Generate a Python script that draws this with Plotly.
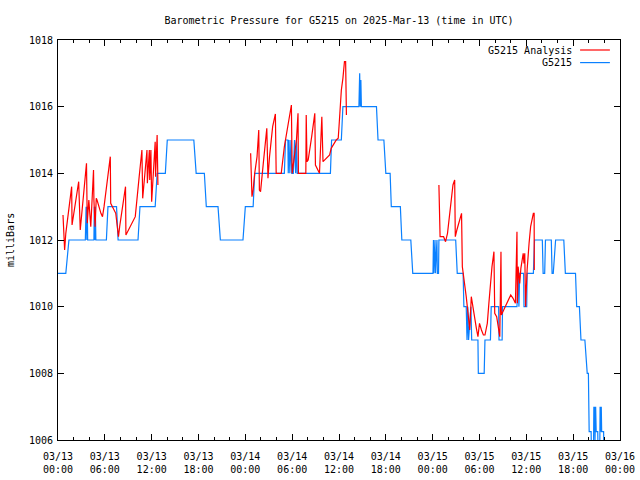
import pandas as pd
import plotly.graph_objects as go

BASE = pd.Timestamp("2025-03-13 00:00")

# ---- G5215 observations (hours since 03/13 00:00 UTC, millibars) ----
obs_hours = [0, 1.0, 1.4, 3.5, 3.6, 3.7, 3.75, 3.8, 4.6, 4.65, 4.72, 4.78, 4.85,
             6.2, 6.4, 7.5, 7.7, 10.25, 10.5, 12.45, 12.7, 13.75, 14.0, 17.4, 17.7,
             18.75, 19.0, 20.5, 20.8, 23.7, 24.0, 25.0, 25.2, 29.0, 29.15, 29.45,
             29.5, 29.6, 29.7, 29.85, 29.95, 30.15, 30.3, 30.45, 30.55, 30.65,
             34.9, 35.05, 36.3, 36.5, 38.55, 38.65, 38.72, 38.8, 38.87, 40.8, 41.0,
             41.75, 42.0, 42.55, 42.7, 43.86, 44.05, 45.2, 45.45, 48.04, 48.1, 48.15,
             48.3, 48.35, 48.55, 48.6, 48.75, 48.8, 50.95, 51.15, 51.9, 52.0, 52.3,
             52.4, 52.5, 52.6, 52.9, 53.0, 53.8, 53.85, 54.6, 54.7, 55.4, 55.5,
             56.45, 56.5, 56.9, 56.95, 58.8, 58.95, 59.05, 59.15, 59.65, 59.7,
             60.05, 60.1, 60.9, 61.05, 62.05, 62.15, 62.35, 62.45, 63.2, 63.3,
             63.45, 63.75, 64.8, 65.0, 66.3, 66.45, 66.8, 67.0, 67.5, 67.8, 67.95,
             68.05, 68.3, 68.35, 68.6, 68.65, 68.7, 68.75, 68.8, 68.88, 68.95,
             69.15, 69.2, 69.4, 69.45, 69.5, 69.6, 69.65, 69.9, 69.95]
obs_mb = [1011, 1011, 1012, 1012, 1013, 1012, 1013, 1012, 1012, 1013, 1012, 1013, 1012,
          1012, 1013, 1013, 1012, 1012, 1013, 1013, 1014, 1014, 1015, 1015, 1014,
          1014, 1013, 1013, 1012, 1012, 1013, 1013, 1014, 1014, 1015, 1015,
          1014, 1015, 1014, 1015, 1014, 1014, 1015, 1014, 1015, 1014,
          1014, 1015, 1015, 1016, 1016, 1017, 1016, 1016.8, 1016, 1016, 1015,
          1015, 1014, 1014, 1013, 1013, 1012, 1012, 1011, 1011, 1012, 1011,
          1012, 1011, 1012, 1011, 1011, 1012, 1012, 1011, 1011, 1010, 1010,
          1009, 1010, 1009, 1010, 1009, 1009, 1008, 1008, 1009, 1009, 1010,
          1010, 1009, 1009, 1010, 1010, 1011, 1010, 1011, 1011, 1010,
          1010, 1011, 1011, 1012, 1012, 1011, 1011, 1012, 1012, 1011,
          1011, 1012, 1012, 1011, 1011, 1010, 1010, 1009, 1009, 1008, 1008,
          1006.25, 1006.25, 1005.5, 1005.5, 1007, 1006.25, 1007, 1006, 1007, 1006.25,
          1006.25, 1005.5, 1005.5, 1007, 1006.25, 1007, 1006.25, 1006.25, 1005.5]

# ---- G5215 Analysis (three separate runs) ----
ana1_hours = [0.64, 0.85, 1.0, 1.7, 1.75, 1.8, 2.65, 2.85, 3.65, 3.75, 3.95, 4.2, 4.55,
              4.6, 4.75, 4.9, 5.0, 5.5, 5.7, 5.9, 6.3, 6.7, 6.75, 7.4, 7.65, 7.75,
              7.9, 8.65, 8.7, 9.2, 9.9, 10.4, 10.75, 10.85, 11.4, 11.45, 11.7, 11.75,
              11.9, 12.0, 12.45, 12.5, 12.7, 12.8]
ana1_mb = [1012.75, 1011.7, 1012.2, 1013.55, 1013.6, 1012.45, 1013.75, 1012.3, 1014.3,
           1012.5, 1013.2, 1012.4, 1014.1, 1013.2, 1012.4, 1013.25, 1013.2, 1012.8,
           1012.7, 1013.0, 1013.8, 1014.5, 1013.1, 1012.8, 1012.3, 1012.1, 1012.4,
           1013.6, 1012.15, 1012.4, 1012.7, 1013.9, 1014.7, 1013.25, 1014.7, 1013.7,
           1014.7, 1013.8, 1014.7, 1013.15, 1014.95, 1013.9, 1015.15, 1013.65]

ana2_hours = [24.68, 24.85, 25.0, 25.2, 25.5, 25.72, 25.8, 25.95, 26.3, 26.6, 26.75,
              26.9, 27.1, 27.5, 27.85, 27.95, 28.3, 28.6, 29.0, 29.35, 29.7, 29.9,
              30.0, 30.3, 30.55, 30.75, 30.8, 31.75, 31.8, 31.9, 32.05, 32.5, 32.9,
              32.98, 33.5, 33.8, 33.95, 34.8, 35.0, 35.65, 35.9, 36.0, 36.3, 36.5,
              36.7, 36.85, 36.95]
ana2_mb = [1014.6, 1013.3, 1013.5, 1014.0, 1014.5, 1015.3, 1013.5, 1013.45, 1014.3,
           1015.15, 1015.35, 1013.85, 1014.5, 1015.4, 1015.78, 1014.0, 1014.0, 1014.0,
           1014.8, 1015.3, 1015.75, 1016.05, 1014.0, 1014.5, 1015.0, 1015.8, 1014.0,
           1014.0, 1015.75, 1014.35, 1014.4, 1015.1, 1015.8, 1014.25, 1014.0, 1015.7,
           1014.35, 1014.55, 1014.75, 1015.0, 1015.05, 1015.4, 1016.5, 1016.85,
           1017.35, 1017.35, 1015.75]

ana3_hours = [48.8, 48.85, 48.95, 49.4, 49.65, 49.9, 50.2, 50.4, 50.6, 50.82, 50.9,
              51.1, 51.5, 51.7, 51.8, 52.1, 52.3, 52.53, 52.75, 52.95, 53.2, 53.4,
              53.6, 53.8, 54.0, 54.25, 54.5, 54.7, 55.0, 55.2, 55.4, 55.6, 55.85,
              55.95, 56.2, 56.4, 56.6, 56.75, 56.8, 57.1, 57.5, 58.0, 58.3, 58.6,
              58.8, 58.85, 58.95, 59.15, 59.3, 59.45, 59.6, 59.7, 59.8, 59.9, 60.1,
              60.35, 60.55, 60.9, 61.0, 61.02]
ana3_mb = [1013.65, 1012.85, 1012.1, 1012.1, 1011.95, 1012.2, 1012.9, 1013.3, 1013.65,
           1013.8, 1012.1, 1012.3, 1012.65, 1012.8, 1011.2, 1010.7, 1010.3, 1009.8,
           1009.3, 1010.3, 1009.9, 1009.7, 1009.35, 1009.1, 1009.5, 1009.3, 1009.15,
           1009.15, 1009.5, 1010.1, 1010.7, 1011.2, 1011.65, 1009.8, 1009.7, 1009.4,
           1009.1, 1011.65, 1009.75, 1009.9, 1010.1, 1010.35, 1010.25, 1010.1,
           1012.25, 1010.1, 1011.2, 1010.7, 1011.15, 1011.45, 1011.6, 1011.3, 1011.6,
           1010.0, 1011.1, 1011.9, 1012.4, 1012.8, 1012.8, 1011.1]

title_text = "Barometric Pressure for G5215 on 2025-Mar-13 (time in UTC)"
y_title = "milliBars"
names = ["G5215 Analysis", "G5215"]
colors = ["#ff0000", "#0a80ff"]

FONT = "DejaVu Sans Mono"


def to_time(hours):
    return [BASE + pd.Timedelta(hours=h) for h in hours]


# join analysis runs with gaps
ana_x, ana_y = [], []
for hrs, vals in [(ana1_hours, ana1_mb), (ana2_hours, ana2_mb), (ana3_hours, ana3_mb)]:
    if ana_x:
        ana_x.append(BASE + pd.Timedelta(hours=hrs[0] - 0.01))
        ana_y.append(None)
    ana_x += to_time(hrs)
    ana_y += vals

fig = go.Figure()
fig.add_trace(go.Scatter(x=to_time(obs_hours), y=obs_mb, mode="lines", name=names[1],
                         line=dict(color=colors[1], width=1.2), showlegend=False))
fig.add_trace(go.Scatter(x=ana_x, y=ana_y, mode="lines", name=names[0],
                         line=dict(color=colors[0], width=1.2), connectgaps=False,
                         showlegend=False))

axis_common = dict(showline=True, linecolor="black", linewidth=1, mirror="ticks",
                   ticks="inside", tickcolor="black", showgrid=False, zeroline=False,
                   automargin=False,
                   tickfont=dict(family=FONT, size=10, color="black"))

fig.update_xaxes(type="date", range=[BASE, BASE + pd.Timedelta(hours=72)],
                 tick0=BASE, dtick=6 * 3600 * 1000, tickformat="%m/%d<br>%H:%M",
                 ticklen=6, ticklabelstandoff=7,
                 minor=dict(dtick=2 * 3600 * 1000, ticklen=3, ticks="inside",
                            tickcolor="black", showgrid=False),
                 **axis_common)
fig.update_yaxes(range=[1006, 1018], dtick=2, ticklen=6, tickformat="d",
                 ticklabelstandoff=2, **axis_common)

# gnuplot-style key: text then line sample
key_rows = [(names[0], colors[0], 0.975), (names[1], colors[1], 0.9435)]
for label, col, yy in key_rows:
    fig.add_annotation(x=0.918, y=yy, xref="paper", yref="paper", text=label,
                       showarrow=False, xanchor="right", yanchor="middle",
                       font=dict(family=FONT, size=10, color="black"))
    fig.add_shape(type="line", xref="paper", yref="paper", x0=0.929, x1=0.982,
                  y0=yy, y1=yy, line=dict(color=col, width=1.2))

fig.add_annotation(x=-0.0854, y=0.5, xref="paper", yref="paper", text=y_title,
                   textangle=-90, showarrow=False, xanchor="center", yanchor="middle",
                   font=dict(family=FONT, size=10, color="black"))

fig.update_layout(
    width=640, height=480,
    margin=dict(l=58, r=20, t=40, b=40),
    paper_bgcolor="white", plot_bgcolor="white",
    title=dict(text=title_text, x=0.5, xref="paper", y=1 - 20 / 480, yref="container",
               xanchor="center", yanchor="middle",
               font=dict(family=FONT, size=10, color="black")),
    showlegend=False,
)

fig.write_html("out.html", config={"displayModeBar": False},
               post_script="document.body.style.margin='0';")
